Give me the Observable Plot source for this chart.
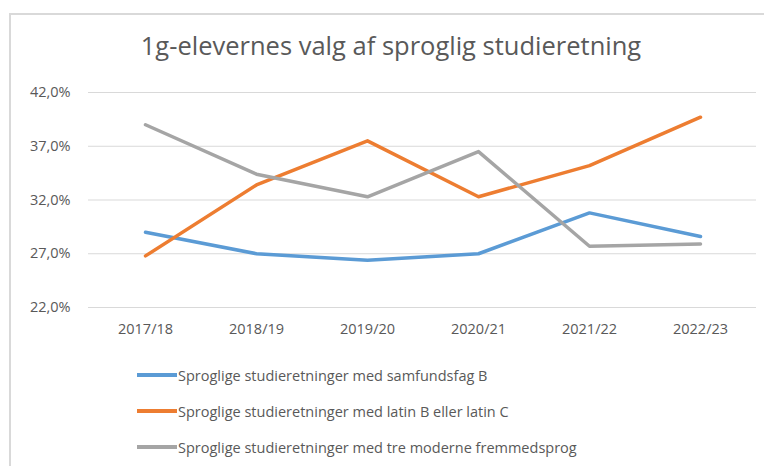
<!DOCTYPE html>
<html><head><meta charset="utf-8">
<script src="https://cdn.jsdelivr.net/npm/d3@7"></script>
<script src="https://cdn.jsdelivr.net/npm/@observablehq/plot@0.6"></script>
<style>
body{margin:0;background:#fff;font-family:"Open Sans",sans-serif;color:#595959;overflow:hidden;}
#frame{position:absolute;left:9px;top:13px;width:800px;height:500px;border-left:2px solid #d9d9d9;border-top:2px solid #d9d9d9;}
#title{position:absolute;left:0;width:782px;top:28px;text-align:center;font-size:25.5px;white-space:nowrap;}
#chart{position:absolute;left:0;top:70px;}
#legend{position:absolute;left:137px;top:357px;font-size:14.5px;}
.item{display:flex;align-items:center;height:36px;white-space:nowrap;}
.sw{width:40px;height:3.5px;margin-right:1px;}
</style></head><body>
<div id="frame"></div>
<div id="title">1g-elevernes valg af sproglig studieretning</div>
<div id="chart"></div>
<div id="legend"></div>
<script>
const years = ["2017/18", "2018/19", "2019/20", "2020/21", "2021/22", "2022/23"];
const seriesNames = [
  "Sproglige studieretninger med samfundsfag B",
  "Sproglige studieretninger med latin B eller latin C",
  "Sproglige studieretninger med tre moderne fremmedsprog"
];
const samfundsfag = [29.0, 27.0, 26.4, 27.0, 30.8, 28.6];
const latin = [26.8, 33.4, 37.5, 32.3, 35.2, 39.7];
const moderne = [39.0, 34.4, 32.3, 36.5, 27.7, 27.9];
const colors = ["#5b9bd5", "#ed7d31", "#a5a5a5"];
const yTicks = [22, 27, 32, 37, 42];

const seriesValues = [samfundsfag, latin, moderne];
const rows = [];
seriesValues.forEach((vals, i) => vals.forEach((v, j) => rows.push({year: years[j], value: v, series: seriesNames[i]})));

const chart = Plot.plot({
  width: 764,
  height: 270,
  marginLeft: 88,
  marginRight: 8,
  marginTop: 22,
  marginBottom: 33,
  style: {fontFamily: "'Open Sans', sans-serif", fontSize: "14.5px", color: "#595959", background: "transparent"},
  x: {type: "point", domain: years, padding: 0.5, label: null, tickSize: 0, tickPadding: 16},
  y: {domain: [22, 42], ticks: yTicks, label: null, tickSize: 0, tickPadding: 18,
      tickFormat: d => d.toFixed(1).replace(".", ",") + "%"},
  color: {domain: seriesNames, range: colors},
  marks: [
    Plot.gridY(yTicks, {stroke: "#d9d9d9", strokeOpacity: 1, strokeWidth: 1}),
    Plot.line(rows, {x: "year", y: "value", z: "series", stroke: "series", strokeWidth: 3.5, strokeLinejoin: "round", strokeLinecap: "round"})
  ]
});
document.getElementById("chart").appendChild(chart);

const legend = document.getElementById("legend");
seriesNames.forEach((name, i) => {
  const item = document.createElement("div");
  item.className = "item";
  const sw = document.createElement("span");
  sw.className = "sw";
  sw.style.background = colors[i];
  const label = document.createElement("span");
  label.textContent = name;
  item.appendChild(sw);
  item.appendChild(label);
  legend.appendChild(item);
});
</script>
</body></html>
